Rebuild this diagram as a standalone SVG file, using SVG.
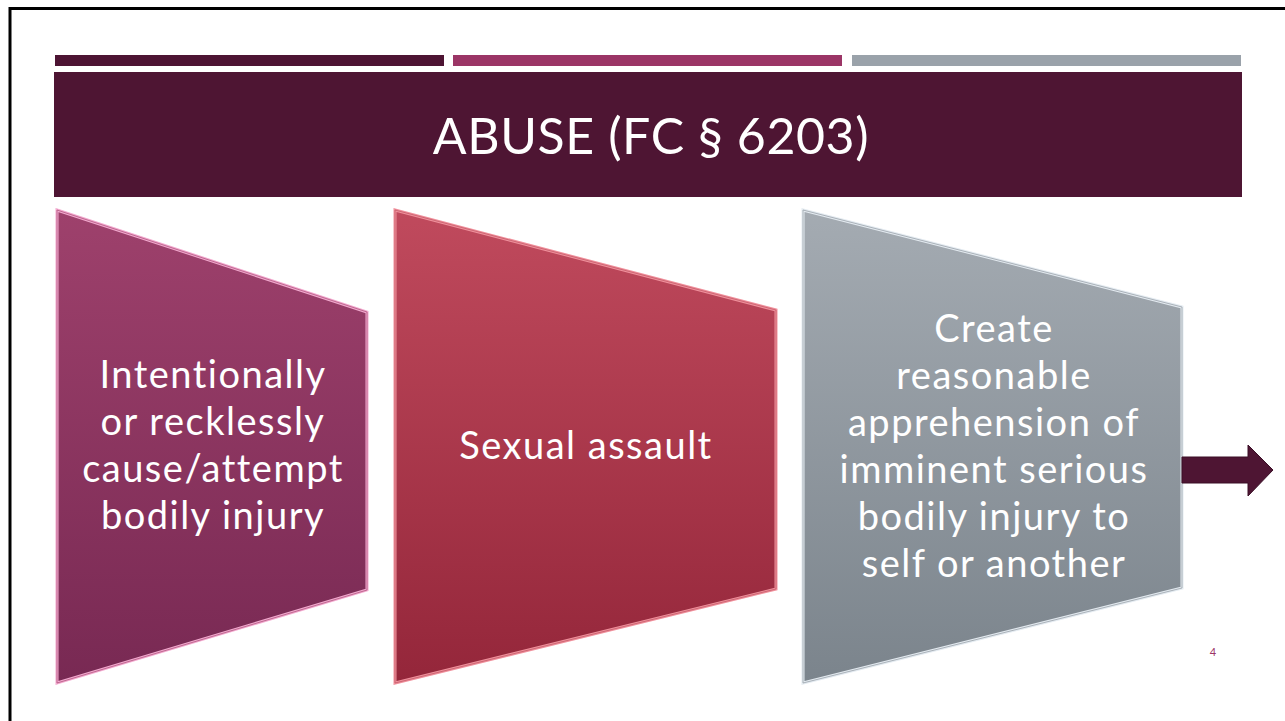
<svg xmlns="http://www.w3.org/2000/svg" width="1285" height="721" viewBox="0 0 1285 721">
  <defs>
    <linearGradient id="g1" x1="0" y1="0" x2="0" y2="1">
      <stop offset="0" stop-color="#9e416c"/>
      <stop offset="1" stop-color="#782953"/>
    </linearGradient>
    <linearGradient id="g2" x1="0" y1="0" x2="0" y2="1">
      <stop offset="0" stop-color="#c04a5d"/>
      <stop offset="1" stop-color="#94263a"/>
    </linearGradient>
    <linearGradient id="g3" x1="0" y1="0" x2="0" y2="1">
      <stop offset="0" stop-color="#a4abb2"/>
      <stop offset="1" stop-color="#7b848c"/>
    </linearGradient>
    <style>
      .label { font-family: Lato, "Open Sans", sans-serif; fill: #ffffff; text-anchor: middle; font-variant-ligatures: none; }
      .body { font-size: 38px; letter-spacing: 1.5px; }
      .title { font-size: 50px; letter-spacing: 0.6px; }
      .pn { font-family: Lato, sans-serif; font-size: 11px; fill: #9b3566; text-anchor: middle; }
    </style>
  </defs>
  <rect x="0" y="0" width="1285" height="721" fill="#ffffff"/>
  <!-- slide border -->
  <path d="M10 721 V8.5 H1285" fill="none" stroke="#000000" stroke-width="3"/>
  <!-- top bars -->
  <rect x="55" y="55" width="389" height="11" fill="#4d1433"/>
  <rect x="453" y="55" width="389" height="11" fill="#9b3566"/>
  <rect x="852" y="55" width="389" height="11" fill="#9aa2aa"/>
  <!-- title -->
  <g id="title">
    <rect x="54" y="72" width="1188" height="125" fill="#4e1533"/>
    <text class="label title" x="651" y="154">ABUSE (FC § 6203)</text>
  </g>
  <g id="node1">
    <polygon points="57,210 367,312 367,590 57,683" fill="url(#g1)" stroke="#f3a9cf" stroke-width="3" stroke-linejoin="miter"/>
    <polygon points="57,210 367,312 367,590 57,683" fill="none" stroke="#b0577f" stroke-width="0.8"/>
    <text class="label body" x="213" y="388">Intentionally</text>
    <text class="label body" x="213" y="435">or recklessly</text>
    <text class="label body" x="213" y="482">cause/attempt</text>
    <text class="label body" x="213" y="529">bodily injury</text>
  </g>
  <g id="node2">
    <polygon points="395,210 776,310 776,589 395,683" fill="url(#g2)" stroke="#f0909c" stroke-width="3"/>
    <polygon points="395,210 776,310 776,589 395,683" fill="none" stroke="#c45a68" stroke-width="0.8"/>
    <text class="label body" x="586" y="459">Sexual assault</text>
  </g>
  <g id="node3">
    <polygon points="803,210 1182,307 1182,588 803,683" fill="url(#g3)" stroke="#e4ebf1" stroke-width="3"/>
    <polygon points="803,210 1182,307 1182,588 803,683" fill="none" stroke="#9aa2aa" stroke-width="0.8"/>
    <text class="label body" x="994" y="342">Create</text>
    <text class="label body" x="994" y="389">reasonable</text>
    <text class="label body" x="994" y="436">apprehension of</text>
    <text class="label body" x="994" y="483">imminent serious</text>
    <text class="label body" x="994" y="530">bodily injury to</text>
    <text class="label body" x="994" y="577">self or another</text>
  </g>
  <g id="connectors">
    <polygon points="1182,457 1248,457 1248,445 1273,470 1248,496 1248,483 1182,483" fill="#4e1533" stroke="#3a0f26" stroke-width="1"/>
  </g>
  <text class="pn" x="1213" y="656">4</text>
</svg>
